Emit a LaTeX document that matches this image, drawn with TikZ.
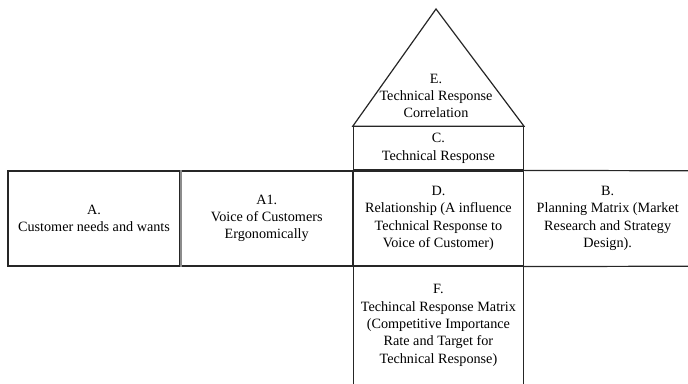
\documentclass[tikz,border=0pt]{standalone}
\usepackage{fontspec}
\setmainfont{Liberation Serif}
\usetikzlibrary{positioning}

\begin{document}
\begin{tikzpicture}[x=1pt,y=1pt,
    every node/.style={font=\fontsize{14.2}{17.3}\selectfont,align=center,inner sep=0pt},
    cell/.style={draw=black!85,line width=1.2pt,minimum height=95pt},
    frame/.style={draw=black!85,line width=1.2pt}
   ]
\useasboundingbox (0,0) rectangle (688,383);
% main row
\node[cell,minimum width=172pt] (needs) at (94,164.5) {A.\\Customer needs and wants};
\node[cell,minimum width=171pt,right=0pt of needs] (voice) {A1.\\Voice of Customers\\Ergonomically};
\node[cell,minimum width=170pt,right=0pt of voice] (relation) {D.\\Relationship (A influence\\Technical Response to\\Voice of Customer)};
\draw[draw=black!45,line width=1.8pt] (needs.north east) -- (needs.south east);
\node[minimum width=167pt,minimum height=95pt,right=0pt of relation] (planning) {B.\\Planning Matrix (Market\\Research and Strategy\\Design).};
\draw[frame] (relation.north east) -- (planning.north east);
\draw[frame] (relation.south east) -- (planning.south east);
% roof
\node[cell,minimum width=170pt,minimum height=43pt,above=0pt of relation] (response) {C.\\Technical Response};
\coordinate (apex) at (436,374);
\draw[frame,line join=miter] (response.north west) -- (apex) -- (response.north east) -- cycle;
\node (correlation) at (436,287) {E.\\Technical Response\\Correlation};
% basement
\node[minimum width=170pt,minimum height=117pt,below=0pt of relation] (target) {F.\\Techincal Response Matrix\\(Competitive Importance\\Rate and Target for\\Technical Response)};
\draw[frame] (target.north west) -- (target.south west);
\draw[frame] (target.north east) -- (target.south east);
\end{tikzpicture}
\end{document}
